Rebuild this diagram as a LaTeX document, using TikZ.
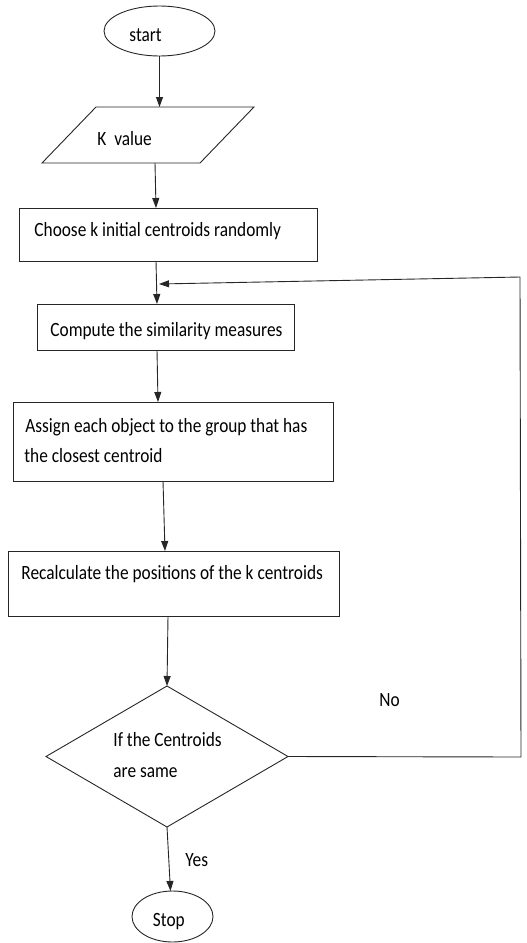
\documentclass[tikz,border=0pt]{standalone}
\usepackage{fontspec}
\setmainfont{Carlito}
\usepackage{graphicx}
\usetikzlibrary{shapes.geometric,arrows.meta,calc}

\tikzset{every picture/.style={line width=0.9pt}}
\newcommand{\tall}[1]{\scalebox{1}[1.17]{#1}}

\begin{document}
\begin{tikzpicture}[x=1pt,y=1pt,yscale=-1,xscale=1,
    shape line/.style={draw=black!85,inner sep=0pt,outer sep=0pt},
    box/.style={shape line,rectangle},
    oval/.style={shape line,ellipse},
    flow/.style={draw=black!85,-{Triangle[length=10pt,width=7pt]}},
    txt/.style={anchor=base west,inner sep=0pt,font=\fontsize{17.3}{20}\selectfont}]
            \useasboundingbox (0,0) rectangle (527,943);

            %Shapes
            \node [oval,minimum width=111,minimum height=50] (start) at (159.5,31) {};
            \node [box,xslant=0.964,minimum width=158,minimum height=56] (kval) at (148,135) {};
            \node [box,minimum width=298,minimum height=53] (choose) at (168,234.5) {};
            \node [box,minimum width=257,minimum height=46] (compute) at (165.5,327) {};
            \node [box,minimum width=320,minimum height=79] (assign) at (173,441.5) {};
            \node [box,minimum width=331,minimum height=65] (recalc) at (173.5,583.5) {};
            \node [shape line,diamond,minimum width=242,minimum height=141] (check) at (167,756.5) {};
            \node [oval,minimum width=81,minimum height=51] (stop) at (172.5,916.5) {};

            %Straight Lines
            \draw [flow] (start.south) -- (start.south |- kval.north);
            \draw [flow] ($(kval.south)+(34,0)$) -- ($(choose.north)+(-12,0)$);
            \draw [flow] ($(choose.south)+(-12,0)$) -- ($(compute.north)+(-8.5,0)$);
            \draw [flow] ($(compute.south)+(-8.5,0)$) -- ($(assign.north)+(-15,0)$);
            \draw [flow] ($(assign.south)+(-10,0)$) -- ($(recalc.north)+(-8.5,0)$);
            \draw [flow] ($(recalc.south)+(-5.5,0)$) -- (check.north);
            \draw [flow] (check.south) -- ($(stop.north)+(-2,0)$);
            %Loop back
            \coordinate (backB) at (521,757);
            \coordinate (backT) at (520,277);
            \coordinate (backIn) at (159,284);
            \draw [flow] (check.east) -- (backB) -- (backT) -- (backIn);

            % Text Node
            \node [txt] (tStart) at (129,41) {\tall{start}};
            \node [txt] (tK) at (97,145) {\tall{K\ \ value}};
            \node [txt] (tChoose) at (34,236) {\tall{Choose k initial centroids randomly}};
            \node [txt] (tCompute) at (50,336) {\tall{Compute the similarity measures}};
            \node [txt] (tAssignA) at (25,432) {\tall{Assign each object to the group that has}};
            \node [txt] (tAssignB) at (24,462) {\tall{the closest centroid}};
            \node [txt] (tRecalc) at (21,579) {\tall{Recalculate the positions of the k centroids}};
            \node [txt] (tIfA) at (113,746.5) {\tall{If the Centroids}};
            \node [txt] (tIfB) at (113,777) {\tall{are same}};
            \node [txt] (tNo) at (379,706.5) {\tall{No}};
            \node [txt] (tYes) at (185,866) {\tall{Yes}};
            \node [txt] (tStop) at (152.5,926) {\tall{Stop}};

\end{tikzpicture}
\end{document}
